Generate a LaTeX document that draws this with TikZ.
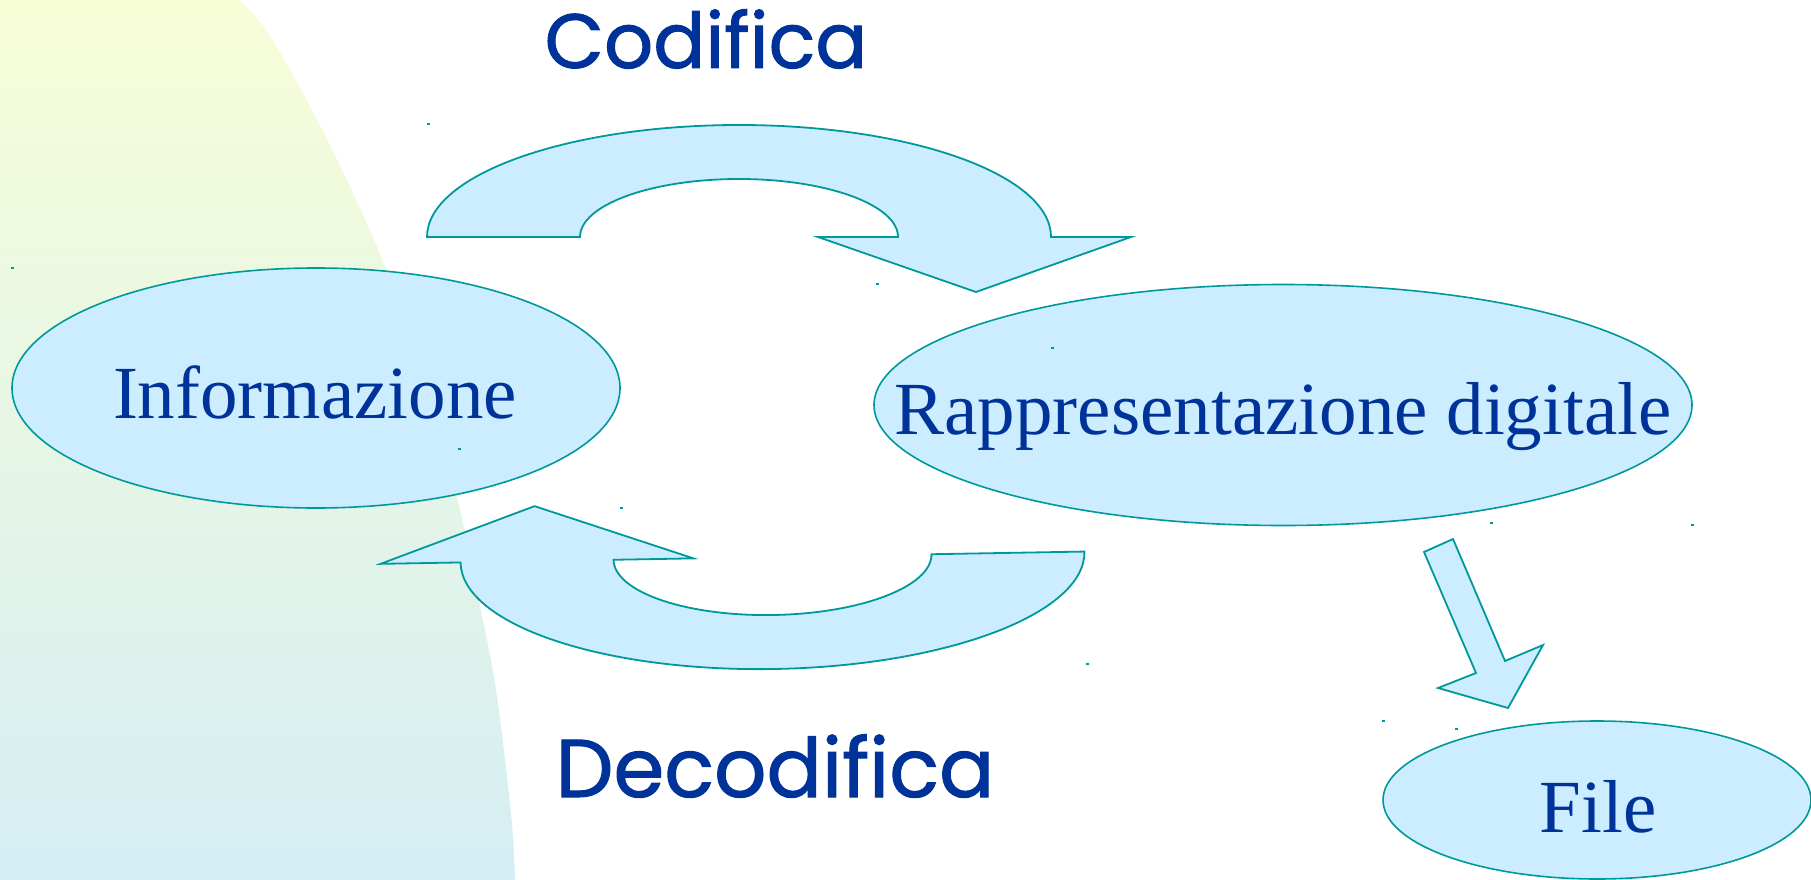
\documentclass[tikz,border=0pt]{standalone}
\usepackage{fontspec}
\setmainfont{Liberation Serif}
\newfontfamily\handfont{Poppins}[FakeBold=1.2]
\usetikzlibrary{shapes.geometric}
\definecolor{fillblue}{HTML}{CCECFF}
\definecolor{edgeteal}{HTML}{009999}
\definecolor{textblue}{HTML}{003399}
\definecolor{bgtop}{HTML}{F7FDD7}
\definecolor{bgbot}{HTML}{D5EEF4}
\tikzset{
  blockarrow/.style={fill=fillblue, draw=edgeteal, line width=1.8pt, line join=miter},
  bubble/.style={ellipse, fill=fillblue, draw=edgeteal, line width=1.6pt, inner sep=0pt, outer sep=0pt},
  serifText/.style={text=textblue, inner sep=0pt, anchor=base, font=\fontsize{75}{90}\selectfont},
  handText/.style={text=textblue, inner sep=0pt, anchor=base},
  speck/.style={fill=edgeteal}
}
\newcommand\curvedarrowpath{(-312,0) arc[start angle=180, end angle=360, x radius=312, y radius=112] -- (392,0) -- (237,55) -- (79,0) -- (159,0) arc[start angle=0, end angle=-180, x radius=159, y radius=58] -- cycle}
\begin{document}
\begin{tikzpicture}[x=1pt,y=-1pt]
\useasboundingbox (0,0) rectangle (1811,880);
% background band
\shade[top color=bgtop, bottom color=bgbot] (0,0)
  -- plot[smooth, tension=0.6] coordinates {(239,0) (266,30) (305,97) (345,176) (386,269) (424,378) (457,497) (480,606) (496,690) (511,814) (515,880)}
  -- (0,880) -- cycle;

% ellipses
\node[bubble, minimum width=608pt, minimum height=240pt] (info) at (316,388) {};
\node[bubble, minimum width=818pt, minimum height=241pt] (rep) at (1283,405) {};
\node[bubble, minimum width=428pt, minimum height=158pt] (file) at (1597,800) {};

% texts
\node[serifText] (infotext) at (315,418) {Informazione};
\node[serifText] (reptext) at (1283,434) {Rappresentazione digitale};
\node[serifText] (filetext) at (1598,832) {File};
\node[handText, font=\handfont\fontsize{77}{92}\selectfont] (cod) at (706,68) {Codifica};
\node[handText, font=\handfont\fontsize{82}{98}\selectfont] (decod) at (775,797) {Decodifica};

% curved block arrows
\begin{scope}[shift={(739,237)}]
  \draw[blockarrow] \curvedarrowpath;
\end{scope}
\begin{scope}[shift={(772.5,557)}, rotate=181]
  \draw[blockarrow] \curvedarrowpath;
\end{scope}

% straight block arrow to File
\draw[blockarrow] (1424,552) -- (1453,539) -- (1505,661) -- (1543,645) -- (1508,708) -- (1438,688) -- (1476,673) -- cycle;

% small specks
\foreach \p in {(427,123),(11,267),(458,448),(620,507),(876,283),(1051,347),(1490,522),(1691,524),(1086,663),(1382,720),(1455,728)}
  \fill[speck] \p rectangle ++(3,2);
\end{tikzpicture}
\end{document}
